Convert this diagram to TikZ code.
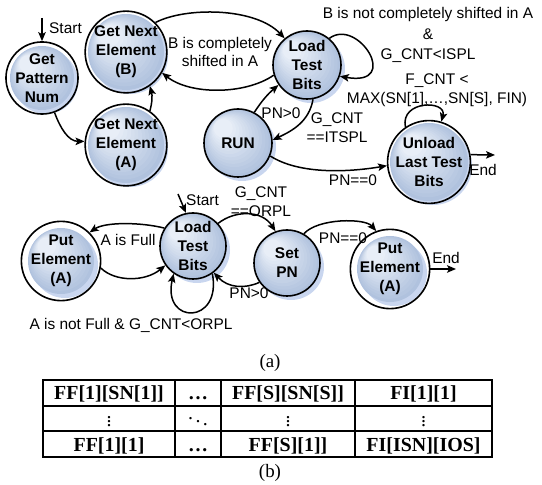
\documentclass[tikz,border=0pt]{standalone}
\usepackage{fontspec}
\setmainfont{Liberation Serif}
\setsansfont{Liberation Sans}
\usetikzlibrary{arrows.meta}
\definecolor{fsmlight}{HTML}{E8EEF7}
\definecolor{fsmdark}{HTML}{B0C2DE}
\definecolor{fsmshadow}{HTML}{C9D6EF}
% a state: its offset shadow, a stepped light-to-blue fill, then the outlined circle with its label
\newcommand{\fsmstate}[5]{%
  \fill[fsmshadow] (#2+4,#3-4) circle (#4);
  \foreach \i in {0,...,12}{
    \pgfmathsetmacro\rr{#4*(1-0.06*\i)}
    \pgfmathsetmacro\dd{0.6*(#4-\rr)}
    \pgfmathtruncatemacro\pp{\i*100/12}
    \fill[fsmlight!\pp!fsmdark] (#2-\dd,#3+\dd) circle (\rr);
  }
  \node[state, minimum size=2*#4bp] (#1) at (#2,#3) {#5};}
\begin{document}
\begin{tikzpicture}[x=1bp,y=1bp,
  state/.style={circle, draw=black, line width=1.6bp, inner sep=0pt, align=center,
    font=\sffamily\bfseries\fontsize{15.5}{19}\selectfont},
  edge/.style={line width=1.5bp, -{Stealth[length=9bp,width=7.5bp,inset=2bp]}},
  lbl/.style={font=\sffamily\fontsize{15.5}{19}\selectfont, align=center, inner sep=0pt},
  cell/.style={font=\rmfamily\bfseries\fontsize{20}{24}\selectfont, inner sep=0pt, anchor=base},
  dotcell/.style={font=\fontsize{20}{24}\selectfont, inner sep=0pt},
  grid/.style={line width=2bp},
  caption/.style={font=\rmfamily\fontsize{19}{22}\selectfont, inner sep=0pt},
]
\useasboundingbox (0,0) rectangle (542,485);

% ---------- upper state machine ----------
\fsmstate{gpn}{42}{407}{32}{Get\\Pattern\\Num}
\fsmstate{gneB}{126}{433}{38}{Get Next\\Element\\(B)}
\fsmstate{gneA}{126}{340}{38}{Get Next\\Element\\(A)}
\fsmstate{ltb}{307}{420}{34}{Load\\Test\\Bits}
\fsmstate{run}{238}{342}{34}{RUN}
\fsmstate{ult}{429}{323}{39}{Unload\\Last Test\\Bits}

\coordinate (startA) at (42,467);
\coordinate (endA) at (495,330);

\draw[edge] (startA) -- (gpn.north);
\node[lbl, anchor=west] (startAlbl) at (49,457) {Start};

\draw[edge] (gpn.-70) to[out=-70, in=180] (gneA.175);
\draw[edge] (gneA.55) to[bend right=15] (gneB.-55);
\draw[edge] (gneB.45) .. controls (185,478) and (255,478) .. (ltb.130);
\draw[edge] (ltb.197) .. controls (245,390) and (190,390) .. (gneB.-30);
\node[lbl] (shiftlbl) at (220,433) {B is completely\\shifted in A};

\draw[edge] (ltb.50) .. controls (358,468) and (402,398) .. (ltb.-19);
\node[lbl, font=\sffamily\fontsize{15.5}{21}\selectfont] (notshiftlbl) at (428,450)
  {B is not completely shifted in A\\\&\\G\_CNT<ISPL};

\draw[edge] (run.62) to[bend left=8] (ltb.215);
\node[lbl] (pnpos) at (281,372) {PN>0};

\draw[edge] (ltb.-80) to[out=-100, in=25] (run.5);
\node[lbl] (itspl) at (337,357) {G\_CNT\\==ITSPL};

\draw[edge] (run.-22) .. controls (300,310) and (350,313) .. (ult.185);
\node[lbl] (pnzero) at (353,305) {PN==0};

\draw[edge] (ult.124) .. controls (400,385) and (447,385) .. (ult.73);
\node[lbl] (fcnt) at (437,395) {F\_CNT <\\MAX(SN[1],…,SN[S], FIN)};

\draw[edge] (ult.10) -- (endA);
\node[lbl] (endAlbl) at (483,315) {End};

% ---------- lower state machine ----------
\fsmstate{pea}{61}{224}{33}{Put\\Element\\(A)}
\fsmstate{ltb2}{193}{239}{33}{Load\\Test\\Bits}
\fsmstate{spn}{287}{222}{33}{Set\\PN}
\fsmstate{peb}{390}{216}{33}{Put\\Element\\(A)}

\coordinate (startB) at (178,291);
\coordinate (endB) at (456,216);

\draw[edge] (startB) -- (ltb2.102);
\node[lbl, anchor=west] (startBlbl) at (186,285) {Start};

\draw[edge] (ltb2.148) .. controls (140,263) and (105,263) .. (pea.45);
\node[lbl] (afull) at (128,245) {A is Full};

\draw[edge] (pea.-10) .. controls (115,203) and (145,203) .. (ltb2.215);

\draw[edge] (ltb2.-55) .. controls (222,160) and (162,160) .. (ltb2.-125);
\node[lbl] (anotfull) at (131,160) {A is not Full \& G\_CNT<ORPL};

\draw[edge] (ltb2.42) .. controls (235,275) and (262,275) .. (spn.110);
\node[lbl] (orpl) at (261,283) {G\_CNT\\==ORPL};

\draw[edge] (spn.215) .. controls (245,196) and (228,197) .. (ltb2.-52);
\node[lbl] (pnposB) at (249,192) {PN>0};

\draw[edge] (spn.60) .. controls (318,267) and (365,267) .. (peb.110);
\node[lbl] (pnzeroB) at (343,247) {PN==0};

\draw[edge] (peb.east) -- (endB);
\node[lbl] (endBlbl) at (446,227) {End};

\node[caption] (capa) at (270,122) {(a)};

% ---------- table ----------
\draw[grid] (43,28) rectangle (492,105);
\draw[grid] (43,79) -- (492,79);
\draw[grid] (43,54) -- (492,54);
\draw[grid] (175,28) -- (175,105);
\draw[grid] (221,28) -- (221,105);
\draw[grid] (355,28) -- (355,105);

\node[cell] (c11) at (109,85) {FF[1][SN[1]]};
\node[cell] (c12) at (198,85) {\dots};
\node[cell] (c13) at (288,85) {FF[S][SN[S]]};
\node[cell] (c14) at (423.5,85) {FI[1][1]};

\node[dotcell] (c21) at (109,66.5) {$\vdots$};
\node[dotcell] (c22) at (198,66.5) {$\ddots$};
\node[dotcell] (c23) at (288,66.5) {$\vdots$};
\node[dotcell] (c24) at (423.5,66.5) {$\vdots$};

\node[cell] (c31) at (109,33) {FF[1][1]};
\node[cell] (c32) at (198,33) {\dots};
\node[cell] (c33) at (288,33) {FF[S][1]]};
\node[cell] (c34) at (423.5,33) {FI[ISN][IOS]};

\node[caption] (capb) at (270,12) {(b)};
\end{tikzpicture}
\end{document}
